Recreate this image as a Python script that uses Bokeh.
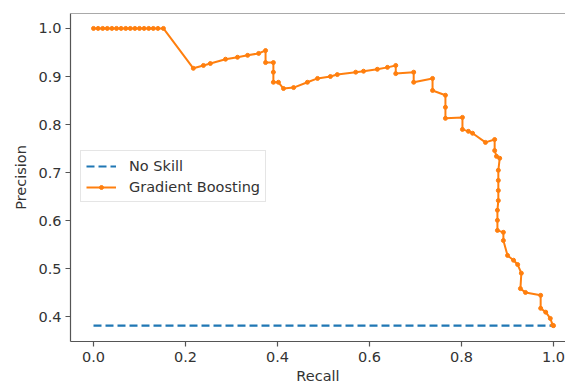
from bokeh.plotting import figure
from bokeh.models import Range1d, FixedTicker, Span, Legend, LegendItem, PrintfTickFormatter
from bokeh.embed import file_html
from bokeh.resources import INLINE

# Precision-recall curve of the gradient boosting classifier
recall = [
    0.000, 0.010, 0.020, 0.030, 0.040, 0.050, 0.060, 0.070, 0.080, 0.090,
    0.100, 0.110, 0.120, 0.130, 0.140, 0.152,
    0.217, 0.239, 0.254, 0.287, 0.313, 0.335, 0.359, 0.374, 0.374, 0.391,
    0.391, 0.391, 0.402, 0.413, 0.435, 0.465, 0.487, 0.515, 0.530, 0.570,
    0.587, 0.617, 0.639, 0.657, 0.657, 0.696, 0.696, 0.737, 0.737, 0.765,
    0.765, 0.765, 0.802, 0.802, 0.815, 0.824, 0.852, 0.872, 0.872, 0.876,
    0.883, 0.880, 0.880, 0.880, 0.880, 0.878, 0.878, 0.878,
    0.891, 0.891, 0.900, 0.913, 0.922, 0.930, 0.928, 0.939, 0.972, 0.972,
    0.983, 0.993, 0.998, 1.000,
]
precision = [
    1.000, 1.000, 1.000, 1.000, 1.000, 1.000, 1.000, 1.000, 1.000, 1.000,
    1.000, 1.000, 1.000, 1.000, 1.000, 1.000,
    0.917, 0.923, 0.927, 0.936, 0.940, 0.944, 0.948, 0.954, 0.929, 0.929,
    0.909, 0.888, 0.888, 0.875, 0.877, 0.888, 0.896, 0.900, 0.904, 0.909,
    0.911, 0.915, 0.919, 0.923, 0.906, 0.909, 0.888, 0.896, 0.871, 0.861,
    0.836, 0.813, 0.815, 0.790, 0.786, 0.782, 0.763, 0.769, 0.746, 0.734,
    0.730, 0.705, 0.684, 0.663, 0.642, 0.622, 0.601, 0.580,
    0.576, 0.559, 0.528, 0.518, 0.509, 0.491, 0.459, 0.451, 0.445, 0.418,
    0.410, 0.397, 0.383, 0.382,
]

# Baseline: share of positive cases
no_skill_x = [0.0, 1.0]
no_skill_y = [0.382, 0.382]

x_ticks = [0.0, 0.2, 0.4, 0.6, 0.8, 1.0]
y_ticks = [0.4, 0.5, 0.6, 0.7, 0.8, 0.9, 1.0]

FONT = "DejaVu Sans"
FSIZE = "14.5px"
TEXT = "#333333"
SPINE = "#555555"

p = figure(
    width=565, height=387,
    output_backend="svg", toolbar_location=None,
    x_range=Range1d(-0.05, 1.026), y_range=Range1d(0.349, 1.031),
    min_border_left=70, min_border_right=0, min_border_top=13, min_border_bottom=46,
    background_fill_color="white", border_fill_color="white",
)
p.outline_line_color = None
p.xgrid.visible = False
p.ygrid.visible = False

for ax, ticks in ((p.xaxis[0], x_ticks), (p.yaxis[0], y_ticks)):
    ax.ticker = FixedTicker(ticks=ticks)
    ax.formatter = PrintfTickFormatter(format="%.1f")
    ax.minor_tick_line_color = None
    ax.major_tick_in = 0
    ax.major_tick_out = 5
    ax.major_tick_line_color = SPINE
    ax.major_tick_line_width = 1.2
    ax.axis_line_color = SPINE
    ax.axis_line_width = 1.2
    ax.major_label_text_font = FONT
    ax.major_label_text_font_size = FSIZE
    ax.major_label_text_color = TEXT
    ax.axis_label_text_font = FONT
    ax.axis_label_text_font_size = FSIZE
    ax.axis_label_text_font_style = "normal"
    ax.axis_label_text_color = TEXT

p.xaxis.axis_label = "Recall"
p.yaxis.axis_label = "Precision"
p.xaxis.major_label_standoff = 5
p.xaxis.axis_label_standoff = 3
p.yaxis.major_label_standoff = 4
p.yaxis.axis_label_standoff = 6

# top spine
p.add_layout(Span(location=1.031, dimension="width", line_color=SPINE, line_width=1.2))

r_skill = p.line(no_skill_x, no_skill_y, line_color="#1f77b4", line_width=2.2, line_dash="8 4")
r_gb_line = p.line(recall, precision, line_color="#ff7f0e", line_width=2)
r_gb_pts = p.scatter(recall, precision, size=4, marker="circle",
                     fill_color="#ff7f0e", line_color="#ff7f0e")

legend = Legend(
    items=[
        LegendItem(label="No Skill", renderers=[r_skill]),
        LegendItem(label="Gradient Boosting", renderers=[r_gb_line, r_gb_pts]),
    ],
    location=(10, 139),
    label_text_font=FONT, label_text_font_size=FSIZE, label_text_color=TEXT,
    label_height=19, glyph_height=10, glyph_width=30, label_standoff=13,
    spacing=2, padding=5, margin=0,
    border_line_color="#cccccc", border_line_width=1,
    background_fill_color="white", background_fill_alpha=0.8,
)
p.add_layout(legend)

open("out.html", "w").write(file_html(p, INLINE))
